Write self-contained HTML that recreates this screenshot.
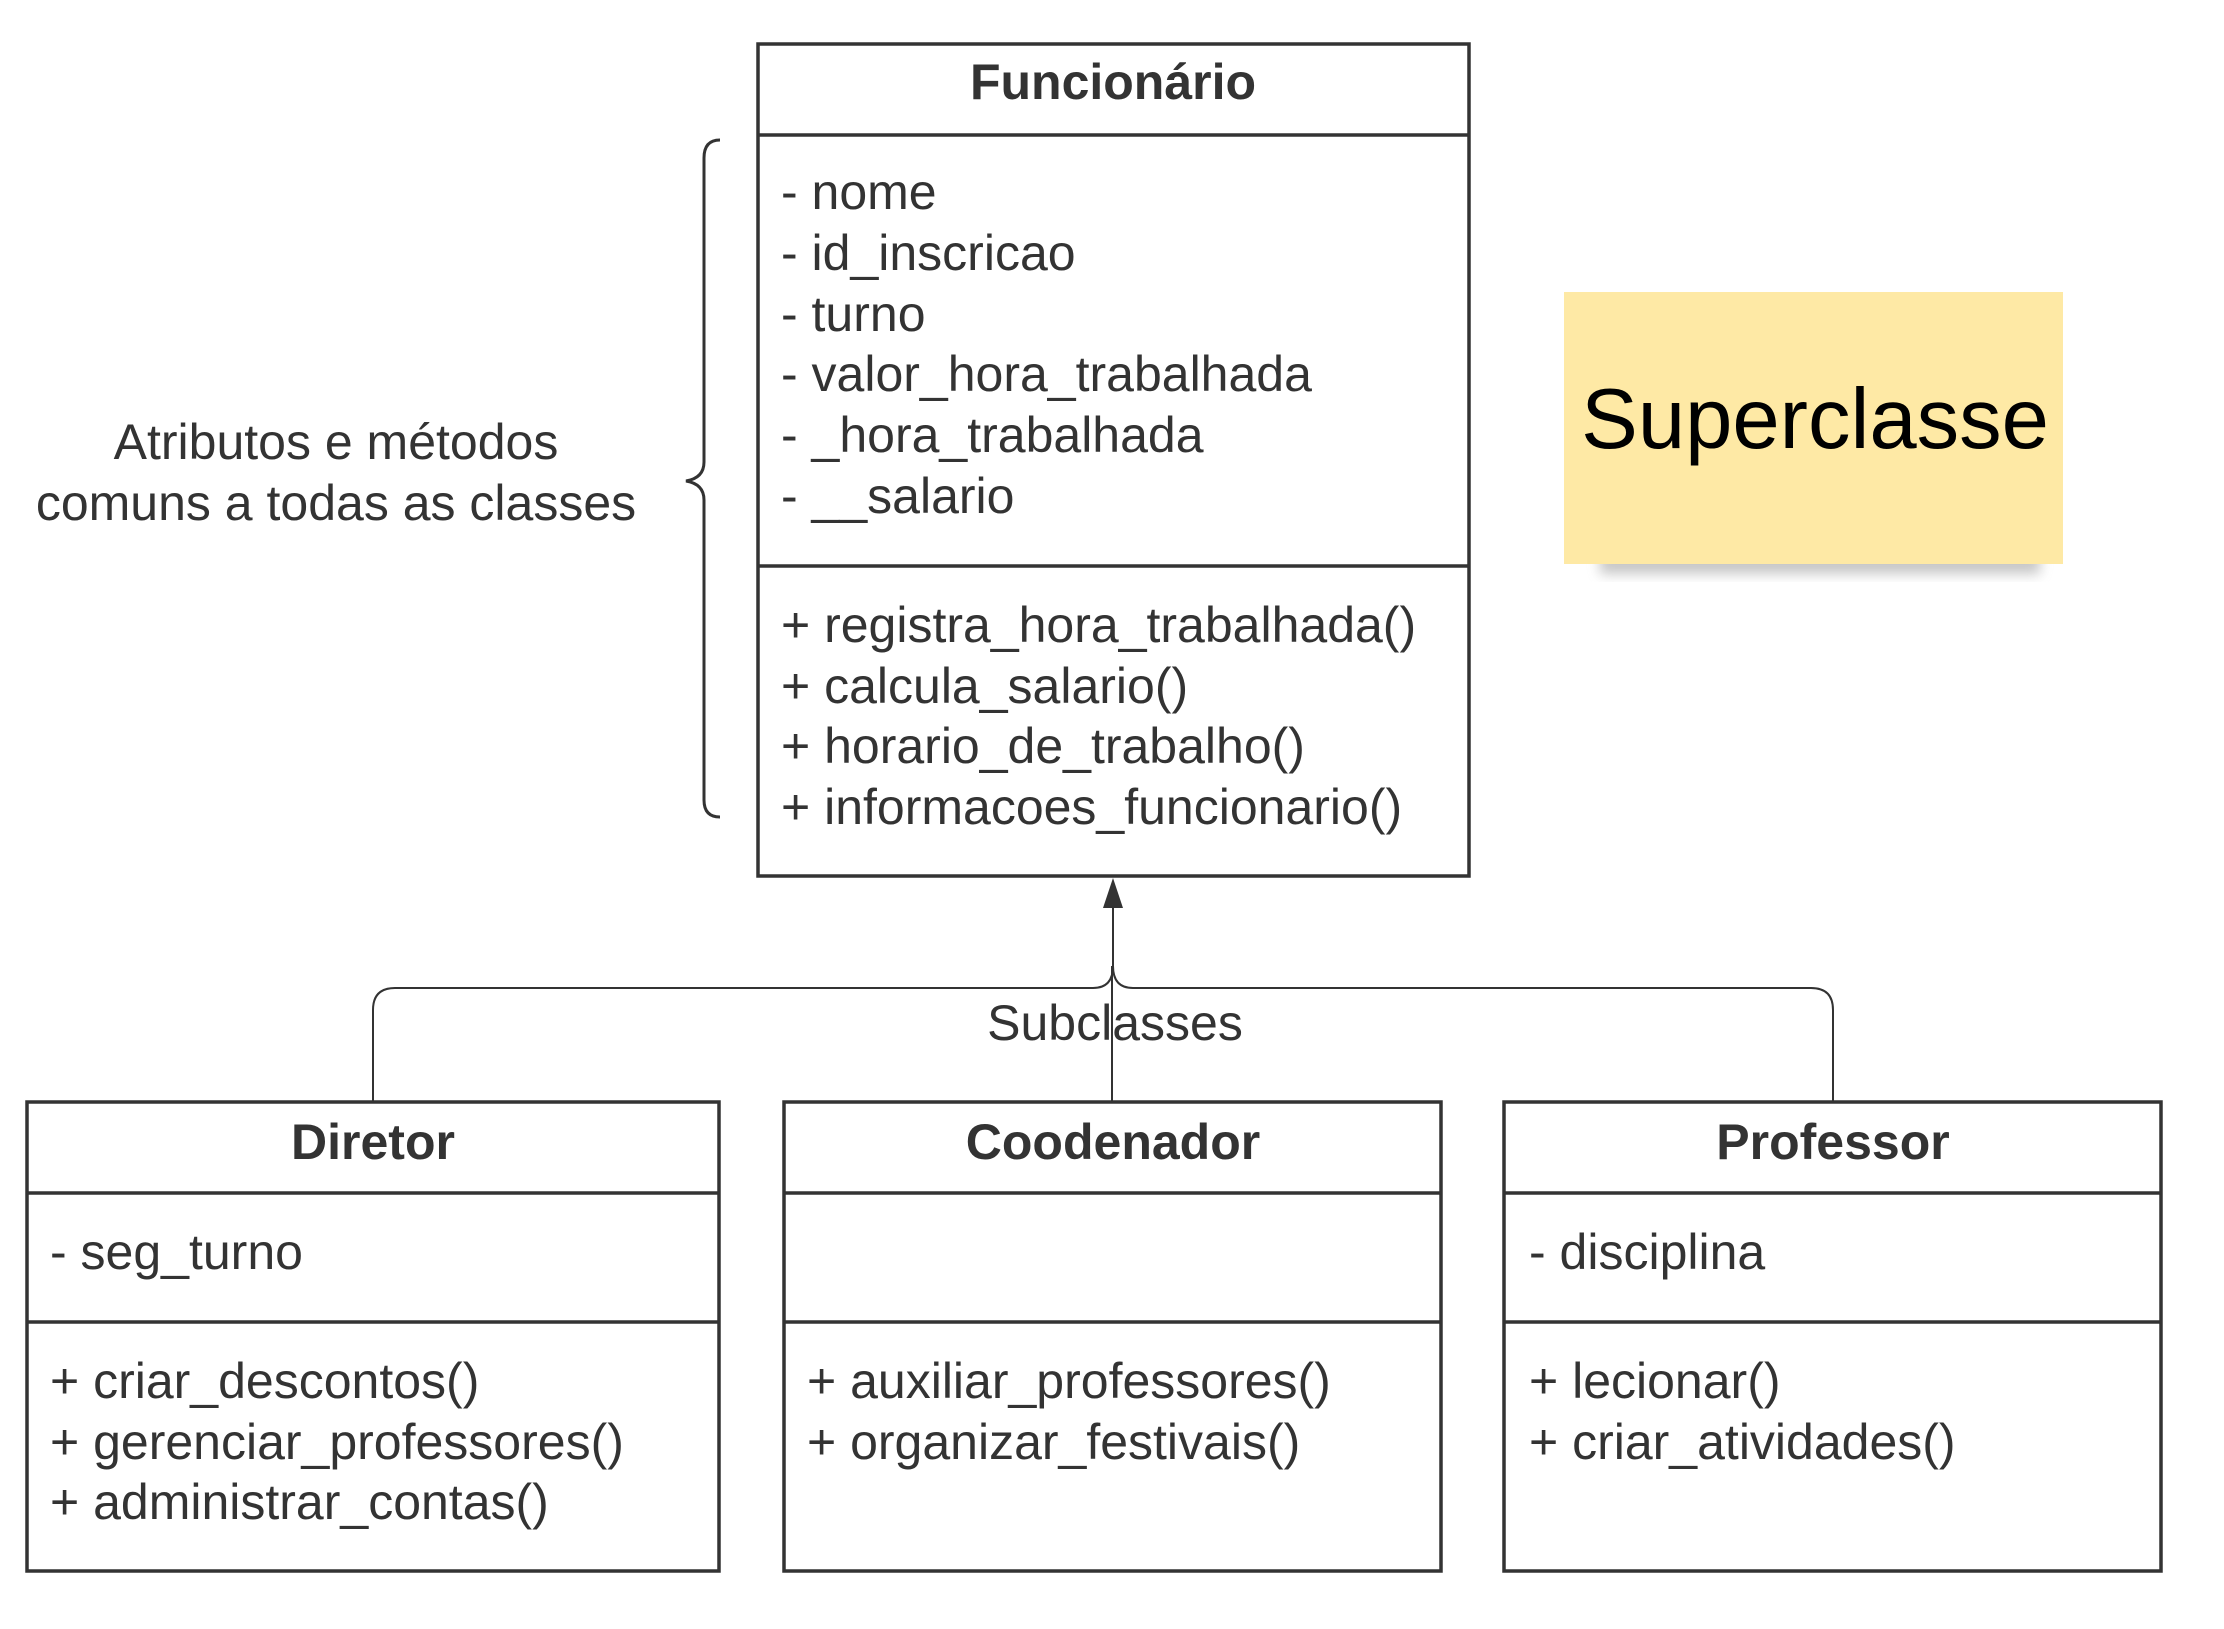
<!DOCTYPE html>
<html><head><meta charset="utf-8"><style>
html,body{margin:0;padding:0;background:#fff;}
svg{display:block;}
text{font-family:"Liberation Sans",sans-serif;fill:#333;}
</style></head><body>
<svg width="2224" height="1629" viewBox="0 0 2224 1629" xmlns="http://www.w3.org/2000/svg">
<defs>
<filter id="sh" x="-10%" y="-10%" width="120%" height="140%"><feGaussianBlur stdDeviation="6"/></filter>
</defs>
<rect x="1600" y="548" width="440" height="26" fill="#999" opacity="0.55" filter="url(#sh)"/>
<rect x="1564" y="292" width="499" height="272" fill="#fee9a5"/>
<text x="1815" y="448" font-size="85" text-anchor="middle" style="fill:#000">Superclasse</text>

<g fill="none" stroke="#333" stroke-width="3.5">
<rect x="758" y="44" width="711" height="832"/>
<line x1="758" y1="135" x2="1469" y2="135"/>
<line x1="758" y1="566" x2="1469" y2="566"/>
<rect x="27" y="1102" width="692" height="469"/>
<line x1="27" y1="1193" x2="719" y2="1193"/>
<line x1="27" y1="1322" x2="719" y2="1322"/>
<rect x="784" y="1102" width="657" height="469"/>
<line x1="784" y1="1193" x2="1441" y2="1193"/>
<line x1="784" y1="1322" x2="1441" y2="1322"/>
<rect x="1504" y="1102" width="657" height="469"/>
<line x1="1504" y1="1193" x2="2161" y2="1193"/>
<line x1="1504" y1="1322" x2="2161" y2="1322"/>
</g>
<g fill="none" stroke="#333" stroke-width="2">
<path d="M373 1102 V1010 Q373 988 395 988 H1093 Q1113 988 1113 966 Q1113 988 1133 988 H1811 Q1833 988 1833 1010 V1102"/>
<line x1="1113" y1="905" x2="1113" y2="966"/>
<line x1="1112" y1="966" x2="1112" y2="1102"/>
</g>
<path d="M720 140 Q704 140 704 158 V462 Q704 478 686 481 Q704 484 704 500 V800 Q704 817 720 817" fill="none" stroke="#333" stroke-width="3"/>
<polygon points="1113,878 1103,908 1123,908" fill="#333"/>

<g font-size="50">
<text x="1113" y="99" text-anchor="middle" font-weight="bold">Funcionário</text>
<text x="781" y="209">- nome</text>
<text x="781" y="270">- id_inscricao</text>
<text x="781" y="331">- turno</text>
<text x="781" y="391">- valor_hora_trabalhada</text>
<text x="781" y="452">- _hora_trabalhada</text>
<text x="781" y="513">- __salario</text>
<text x="781" y="642">+ registra_hora_trabalhada()</text>
<text x="781" y="703">+ calcula_salario()</text>
<text x="781" y="763">+ horario_de_trabalho()</text>
<text x="781" y="824">+ informacoes_funcionario()</text>

<text x="336" y="459" text-anchor="middle">Atributos e métodos</text>
<text x="336" y="520" text-anchor="middle">comuns a todas as classes</text>
<text x="1115" y="1040" text-anchor="middle">Subclasses</text>

<text x="373" y="1159" text-anchor="middle" font-weight="bold">Diretor</text>
<text x="50" y="1269">- seg_turno</text>
<text x="50" y="1398">+ criar_descontos()</text>
<text x="50" y="1459">+ gerenciar_professores()</text>
<text x="50" y="1519">+ administrar_contas()</text>

<text x="1113" y="1159" text-anchor="middle" font-weight="bold">Coodenador</text>
<text x="807" y="1398">+ auxiliar_professores()</text>
<text x="807" y="1459">+ organizar_festivais()</text>

<text x="1833" y="1159" text-anchor="middle" font-weight="bold">Professor</text>
<text x="1529" y="1269">- disciplina</text>
<text x="1529" y="1398">+ lecionar()</text>
<text x="1529" y="1459">+ criar_atividades()</text>
</g>
</svg>
</body></html>
